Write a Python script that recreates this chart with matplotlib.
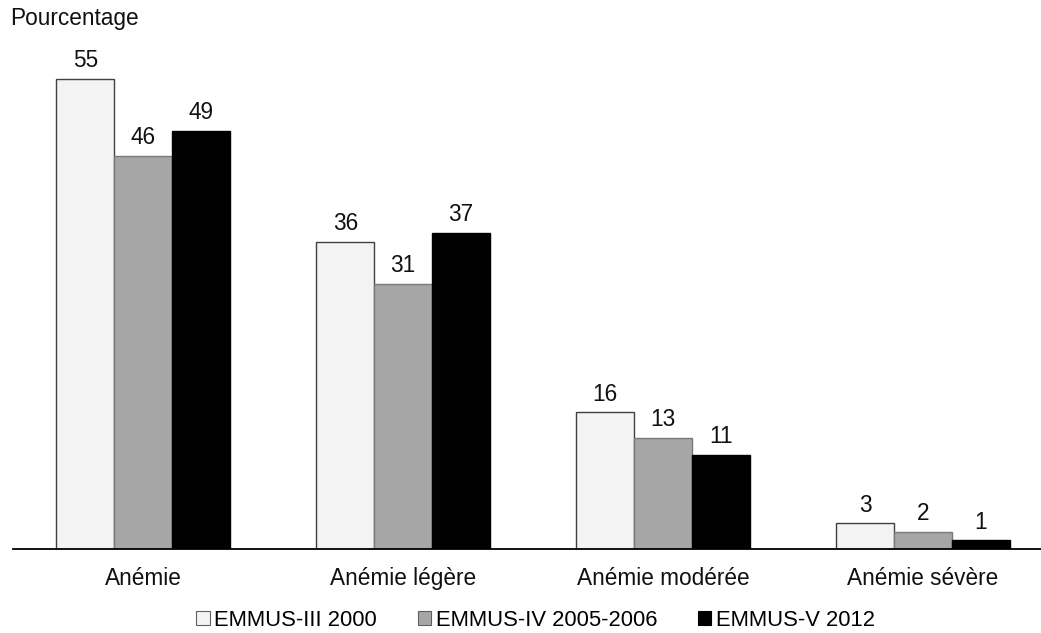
import matplotlib
matplotlib.use("Agg")
import matplotlib.pyplot as plt
import numpy as np
from matplotlib.patches import Patch

categories = ["Anémie", "Anémie légère", "Anémie modérée", "Anémie sévère"]
series_names = ["EMMUS-III 2000", "EMMUS-IV 2005-2006", "EMMUS-V 2012"]
emmus_iii = [55, 36, 16, 3]
emmus_iv = [46, 31, 13, 2]
emmus_v = [49, 37, 11, 1]

fills = ["#f2f3f2", "#a6a6a6", "#000000"]
edges = ["#404040", "#7a7a7a", "#000000"]

plt.rcParams["font.family"] = ["Liberation Sans", "DejaVu Sans"]
FS = 16.3
FS_LEG = 15.8

W, H, DPI = 1041, 633, 100
fig = plt.figure(figsize=(W / DPI, H / DPI), dpi=DPI)

# axes geometry in pixels
left_px, right_px, top_px, base_px = 13, 1053, 60, 549
ax = fig.add_axes([left_px / W, (H - base_px) / H,
                   (right_px - left_px) / W, (base_px - top_px) / H])

x = np.arange(len(categories))
width = 0.222
for i, (vals, fc, ec) in enumerate(zip([emmus_iii, emmus_iv, emmus_v], fills, edges)):
    pos = x + (i - 1) * width
    ax.bar(pos, vals, width=width, color=fc, edgecolor=ec, linewidth=1.0)
    for px_, v in zip(pos, vals):
        ax.annotate(str(v), (px_, v), xytext=(0, 8.5), textcoords="offset points",
                    ha="center", va="baseline", fontsize=FS, color="#111111")

ax.set_xlim(-0.5, 3.5)
ax.set_ylim(0, (base_px - top_px) / 8.54)
for s in ["top", "right", "left"]:
    ax.spines[s].set_visible(False)
ax.spines["bottom"].set_linewidth(1.3)
ax.set_yticks([])
ax.set_xticks(x)
ax.set_xticklabels(categories, fontsize=FS, color="#111111")
ax.tick_params(axis="x", length=0, pad=13)

fig.text(10 / W, 1 - 18 / H, "Pourcentage", fontsize=FS, ha="left", va="center",
         color="#111111")

handles = [Patch(facecolor=fc, edgecolor=ec, linewidth=0.8)
           for fc, ec in zip(fills, ["#606060", "#606060", "#000000"])]
fig.legend(handles, series_names, loc="center", bbox_to_anchor=(0.5144, 1 - 620 / H),
           ncol=3, frameon=False, fontsize=FS_LEG, handlelength=0.62, handleheight=0.62,
           handletextpad=0.2, columnspacing=1.85)

fig.savefig("out.png", dpi=DPI)
